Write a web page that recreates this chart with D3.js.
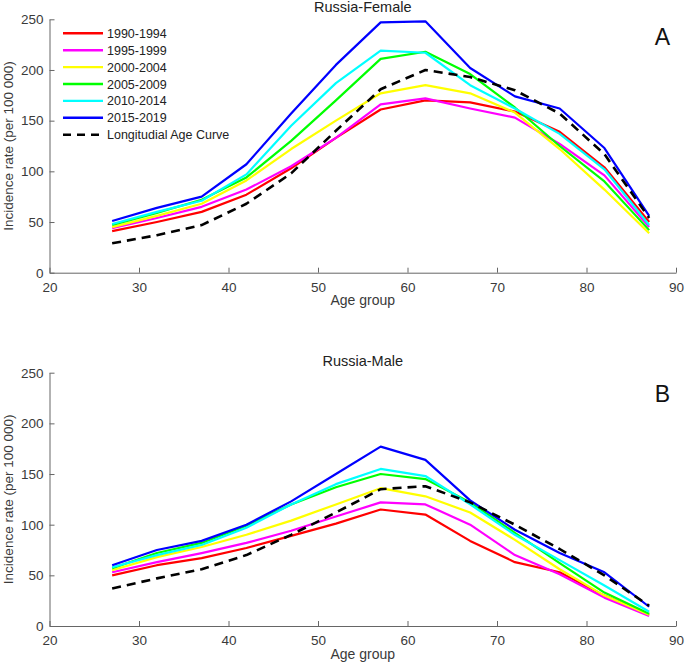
<!DOCTYPE html>
<html><head><meta charset="utf-8">
<script src="https://cdn.jsdelivr.net/npm/d3@7"></script>
<style>body{margin:0;background:#fff}svg{display:block}text{font-family:"Liberation Sans",Arial,sans-serif}</style>
</head><body><svg id="c" width="685" height="671"></svg>
<script>
const ages = [27,32,37,42,47,52,57,62,67,72,77,82,87];
const seriesNames = ["1990-1994","1995-1999","2000-2004","2005-2009","2010-2014","2015-2019","Longitudial Age Curve"];
const seriesColors = ["#ff0000","#ff00ff","#ffff00","#00ff00","#00ffff","#0000ff","#000000"];
const xTicks = [20,30,40,50,60,70,80,90];
const yTicks = [0,50,100,150,200,250];

const female1990 = [41,50,60,77,103,133,161,170,168,159,139,104,50];
const female1995 = [44,54,65,82,105,133,166,172,162,153,127,96,45];
const female2000 = [45,56,68,91,122,150,177,185,177,158,122,82,39];
const female2005 = [47,59,72,94,130,170,211,218,196,163,125,90,42];
const female2010 = [48,60,71,97,145,187,219,217,185,162,137,102,47];
const female2015 = [51,64,75,107,157,205,247,248,202,174,162,123,56];
const femaleLAC  = [29,37,47,68,98,140,181,200,193,180,157,117,54];

const male1990 = [50,60,67,77,89,101,115,110,84,63,53,30,11];
const male1995 = [53,63,72,82,94,108,122,120,100,70,51,28,10];
const male2000 = [55,68,78,90,104,120,136,128,112,85,56,30,11];
const male2005 = [57,72,82,99,120,137,150,145,122,92,62,33,12];
const male2010 = [58,70,80,97,120,140,155,148,120,90,65,40,14];
const male2015 = [60,75,84,100,123,150,177,164,124,95,72,53,19];
const maleLAC  = [37,47,56,70,90,112,135,138,122,100,76,50,20];

const panels = [
  {title:"Russia-Female", letter:"A", top:19.3, bottom:272.7, data:[female1990,female1995,female2000,female2005,female2010,female2015,femaleLAC], legend:true, letterY:45},
  {title:"Russia-Male", letter:"B", top:372.7, bottom:626, data:[male1990,male1995,male2000,male2005,male2010,male2015,maleLAC], legend:false, letterY:401.5}
];

const svg = d3.select("#c");
const left = 49.5, right = 676;
const x = d3.scaleLinear().domain([20,90]).range([left,right]);
const axisColor = "#666";
const textColor = "#3a3a3a";

panels.forEach(p => {
  const y = d3.scaleLinear().domain([0,250]).range([p.bottom,p.top]);
  const g = svg.append("g");
  const xa = g.append("g").attr("transform",`translate(0,${p.bottom})`)
    .call(d3.axisBottom(x).tickValues(xTicks).tickSizeInner(-5).tickSizeOuter(0).tickPadding(9.5));
  const ya = g.append("g").attr("transform",`translate(${left},0)`)
    .call(d3.axisLeft(y).tickValues(yTicks).tickSizeInner(-5).tickSizeOuter(0).tickPadding(6));
  [xa,ya].forEach(a=>{
    a.select(".domain").attr("stroke",axisColor).attr("stroke-width",1);
    a.selectAll(".tick line").attr("stroke",axisColor);
    a.selectAll(".tick text").attr("fill",textColor).style("font-size","13.5px");
  });
  const line = d3.line().x((d,i)=>x(ages[i])).y(d=>y(d));
  p.data.forEach((vals,k)=>{
    const dashed = k===6;
    g.append("path").datum(vals).attr("d",line).attr("fill","none")
      .attr("stroke",seriesColors[k]).attr("stroke-width",dashed?2.6:2.2)
      .attr("stroke-dasharray",dashed?"9,6":null).attr("stroke-linejoin","round");
  });
  const cx = (left+right)/2;
  g.append("text").attr("x",cx).attr("y",p.top-7).attr("text-anchor","middle")
    .attr("fill","#222").style("font-size","14.5px").text(p.title);
  g.append("text").attr("x",662.5).attr("y",p.letterY).attr("text-anchor","middle")
    .attr("fill","#111").style("font-size","23px").text(p.letter);
  const cy = (p.top+p.bottom)/2;
  g.append("text").attr("transform",`translate(13,${cy}) rotate(-90)`).attr("text-anchor","middle")
    .attr("fill",textColor).style("font-size","13.5px").text("Incidence rate (per 100 000)");
  g.append("text").attr("x",cx).attr("y",p.bottom+32.5).attr("text-anchor","middle")
    .attr("fill",textColor).style("font-size","14px").text("Age group");
  if (p.legend) {
    seriesNames.forEach((n,k)=>{
      const ly = 33.3 + k*16.9;
      const dashed = k===6;
      g.append("line").attr("x1",63).attr("x2",103).attr("y1",ly).attr("y2",ly)
        .attr("stroke",seriesColors[k]).attr("stroke-width",dashed?2.6:2.4)
        .attr("stroke-dasharray",dashed?"8,6":null);
      g.append("text").attr("x",107).attr("y",ly+4.5).attr("fill","#222")
        .style("font-size","12.5px").text(n);
    });
  }
});
</script></body></html>
